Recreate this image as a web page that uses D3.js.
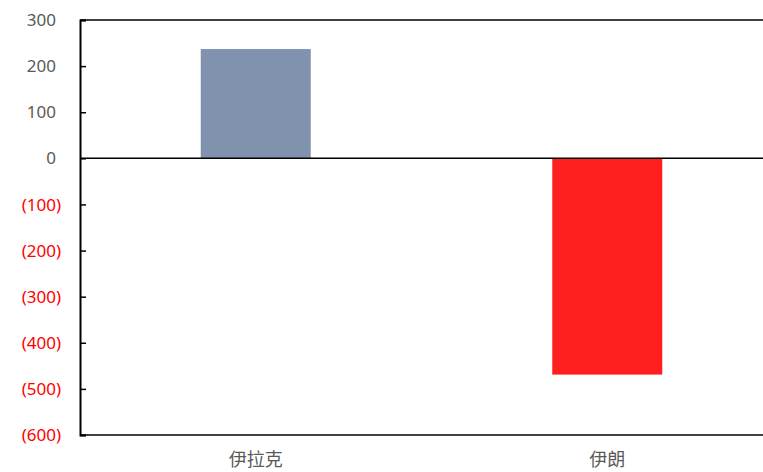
<!DOCTYPE html>
<html><head><meta charset="utf-8">
<script src="https://cdn.jsdelivr.net/npm/d3@7/dist/d3.min.js"></script>
<style>body{margin:0;background:#fff;}svg{display:block;}</style>
</head><body>
<svg id="c" width="763" height="472"></svg>
<script>
const categories = ["伊拉克", "伊朗"];
const values = [237, -469];
const barColors = ["#8192AF", "#FF1F1F"];
const yTicks = [300, 200, 100, 0, -100, -200, -300, -400, -500, -600];

const svg = d3.select("#c");
const x = d3.scaleBand().domain(categories).range([80, 783]);
const y = d3.scaleLinear().domain([-600, 300]).range([435, 20]);
const bw = 110;

svg.selectAll("rect.bar").data(values).enter().append("rect")
  .attr("x", (d, i) => x(categories[i]) + x.bandwidth() / 2 - bw / 2)
  .attr("width", bw)
  .attr("y", d => y(Math.max(0, d)))
  .attr("height", d => Math.abs(y(d) - y(0)))
  .attr("fill", (d, i) => barColors[i]);

svg.append("line").attr("x1", 80).attr("x2", 763).attr("y1", y(300)).attr("y2", y(300))
  .attr("stroke", "#000").attr("stroke-width", 1.5);
svg.append("line").attr("x1", 80).attr("x2", 763).attr("y1", y(-600)).attr("y2", y(-600))
  .attr("stroke", "#000").attr("stroke-width", 1.5);
svg.append("line").attr("x1", 80).attr("x2", 763).attr("y1", y(0)).attr("y2", y(0))
  .attr("stroke", "#000").attr("stroke-width", 1.5);

const yAxis = d3.axisRight(y).tickValues(yTicks).tickSize(6).tickFormat("");
const gy = svg.append("g").attr("transform", "translate(80,0)").call(yAxis);
gy.select(".domain").attr("stroke", "#000").attr("stroke-width", 2);
gy.selectAll(".tick line").attr("stroke", "#000").attr("stroke-width", 1.5);

svg.selectAll("text.yl").data(yTicks).enter().append("text")
  .attr("x", d => d < 0 ? 61 : 56)
  .attr("y", d => y(d))
  .attr("dy", "0.36em")
  .attr("text-anchor", "end")
  .attr("font-family", "'Noto Sans', 'Open Sans', sans-serif")
  .attr("font-size", 17)
  .attr("fill", d => d < 0 ? "#FF0000" : "#595959")
  .text(d => d < 0 ? "(" + (-d) + ")" : d);

svg.selectAll("text.xl").data(categories).enter().append("text")
  .attr("x", d => x(d) + x.bandwidth() / 2)
  .attr("y", 466)
  .attr("text-anchor", "middle")
  .attr("font-family", "'Noto Sans CJK SC', sans-serif")
  .attr("font-size", 18)
  .attr("fill", "#595959")
  .text(d => d);
</script>
</body></html>
